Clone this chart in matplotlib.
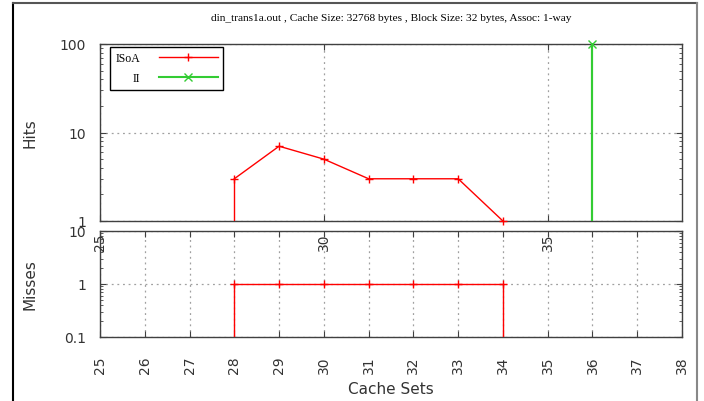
import matplotlib
matplotlib.use("Agg")
import matplotlib.pyplot as plt
from matplotlib.lines import Line2D
from matplotlib.ticker import FixedLocator, NullFormatter, FuncFormatter

title = "din_trans1a.out , Cache Size: 32768 bytes , Block Size: 32 bytes, Assoc: 1-way"

# Hits
isoa_hits_x = [28, 29, 30, 31, 32, 33, 34]
isoa_hits_y = [3, 7, 5, 3, 3, 3, 1]
ii_hits_x = [36]
ii_hits_y = [100]

# Misses
isoa_miss_x = [28, 29, 30, 31, 32, 33, 34]
isoa_miss_y = [1, 1, 1, 1, 1, 1, 1]

xmin, xmax = 25, 38
top_xticks = [25, 30, 35]
bottom_xticks = list(range(25, 39))

RED = "#ff0000"
GREEN = "#33cc33"
SPINE = "#404040"
TXT = "#333333"

fig = plt.figure(figsize=(7.04, 4.02), dpi=100)

ax1 = fig.add_axes([100/704, 1-222/402, 582/704, 177/402])
ax2 = fig.add_axes([100/704, 1-338/402, 582/704, 106/402])
ax1.set_zorder(3)
ax2.set_zorder(2)

def logfmt(v, pos):
    if v >= 1:
        return "%d" % v
    return "%g" % v

def series(ax, xs, ys, color, marker, lw, ybot, label):
    ax.plot(xs, ys, color=color, lw=lw, marker=marker, ms=6, mew=1.0, label=label,
            clip_on=False, zorder=3)
    # drop lines from first and last points to the axis bottom
    ax.vlines([xs[0], xs[-1]], ybot, [ys[0], ys[-1]], color=color, lw=lw, zorder=3)

def style(ax):
    for s in ax.spines.values():
        s.set_color(SPINE)
        s.set_linewidth(1.0)
    ax.tick_params(which="both", direction="in", top=True, right=True,
                   colors=SPINE, labelcolor=TXT, labelsize=10)
    ax.tick_params(which="major", length=4)
    ax.tick_params(which="minor", length=2)
    ax.tick_params(axis="x", which="minor", length=0)
    ax.tick_params(axis="y", which="both", pad=10)

# Top panel
ax1.set_yscale("log")
ax1.set_xlim(xmin, xmax)
ax1.set_ylim(1, 100)
series(ax1, isoa_hits_x, isoa_hits_y, RED, "+", 1.0, 1, "ISoA")
series(ax1, ii_hits_x, ii_hits_y, GREEN, "x", 1.5, 1, "II")
ax1.xaxis.set_major_locator(FixedLocator(top_xticks))
ax1.yaxis.set_major_formatter(FuncFormatter(logfmt))
ax1.yaxis.set_minor_formatter(NullFormatter())
style(ax1)
ax1.tick_params(axis="x", labelrotation=90, pad=8)
ax1.grid(True, which="major", color="#a0a0a0", linestyle=(0, (1.5, 3)), lw=0.9)
leg = ax1.legend(loc="upper left", bbox_to_anchor=(0.017, 0.985), markerfirst=False,
                 frameon=True, fancybox=False, edgecolor="black", framealpha=1,
                 prop={"family": "Liberation Serif", "size": 8.5}, handlelength=5,
                 borderpad=0.45, labelspacing=0.7, handletextpad=1.6, borderaxespad=0)
leg.get_frame().set_linewidth(1.0)
ax1.set_title(title, fontsize=8.2, family="Liberation Serif", color="black", pad=17)

# Bottom panel
ax2.set_yscale("log")
ax2.set_xlim(xmin, xmax)
ax2.set_ylim(0.1, 10)
series(ax2, isoa_miss_x, isoa_miss_y, RED, "+", 1.0, 0.1, "ISoA")
ax2.xaxis.set_major_locator(FixedLocator(bottom_xticks))
ax2.yaxis.set_major_formatter(FuncFormatter(logfmt))
ax2.yaxis.set_minor_formatter(NullFormatter())
style(ax2)
ax2.tick_params(axis="x", labelrotation=90, pad=13)
ax2.grid(True, which="major", color="#a0a0a0", linestyle=(0, (1.5, 3)), lw=0.9)
ax2.set_xlabel("Cache Sets", fontsize=11, color=TXT, labelpad=6)

ax1.set_ylabel("Hits", fontsize=11, color=TXT)
ax2.set_ylabel("Misses", fontsize=11, color=TXT)
ax1.yaxis.set_label_coords(-0.108, 0.5)
ax2.yaxis.set_label_coords(-0.108, 0.5)

# outer frame
fig.add_artist(Line2D([13/704, 13/704], [0, 1-4/402], transform=fig.transFigure, color="black", lw=1.5))
fig.add_artist(Line2D([13/704, 697/704], [1-4/402, 1-4/402], transform=fig.transFigure, color="#555555", lw=1.5))
fig.add_artist(Line2D([697/704, 697/704], [0, 1-4/402], transform=fig.transFigure, color="#888888", lw=1.5))

fig.savefig("out.png", dpi=100)
